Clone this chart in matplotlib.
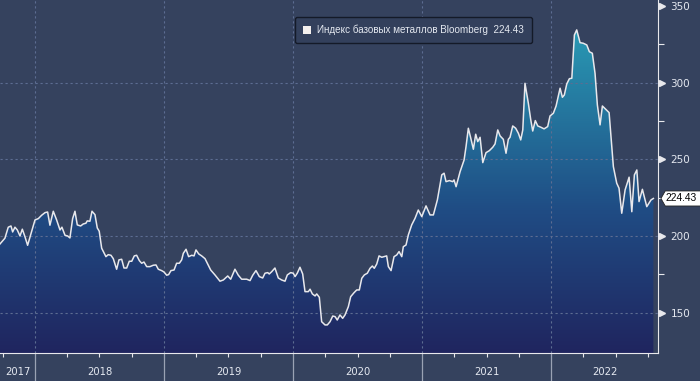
import numpy as np
import matplotlib
matplotlib.use("Agg")
import matplotlib.pyplot as plt
from matplotlib.colors import LinearSegmentedColormap
from matplotlib.patches import Patch, Polygon
import matplotlib.transforms as mtransforms

# time as fractional years, values of the Bloomberg base metals index
t = [2017.729, 2017.767, 2017.793, 2017.814, 2017.827, 2017.845, 2017.863, 2017.884, 2017.902, 2017.922,
     2017.943, 2017.974, 2018.000, 2018.026, 2018.052, 2018.078, 2018.098, 2018.116, 2018.142, 2018.168,
     2018.194, 2018.209, 2018.233, 2018.253, 2018.271, 2018.292, 2018.310, 2018.328, 2018.354, 2018.374,
     2018.395, 2018.405, 2018.426, 2018.442, 2018.465, 2018.483, 2018.498, 2018.517, 2018.550, 2018.568,
     2018.589, 2018.607, 2018.633, 2018.651, 2018.672, 2018.690, 2018.711, 2018.731, 2018.750, 2018.770,
     2018.788, 2018.809, 2018.827, 2018.845, 2018.866, 2018.891, 2018.917, 2018.938, 2018.956, 2018.982,
     2019.000, 2019.021, 2019.036, 2019.054, 2019.078, 2019.098, 2019.119, 2019.137, 2019.150, 2019.171,
     2019.191, 2019.215, 2019.233, 2019.248, 2019.269, 2019.292, 2019.318, 2019.336, 2019.362, 2019.395,
     2019.434, 2019.460, 2019.494, 2019.517, 2019.550, 2019.576, 2019.602, 2019.641, 2019.667, 2019.688,
     2019.713, 2019.739, 2019.765, 2019.783, 2019.804, 2019.816, 2019.835, 2019.860, 2019.886, 2019.912,
     2019.938, 2019.956, 2019.982, 2020.002, 2020.016, 2020.033, 2020.054, 2020.075, 2020.093, 2020.119,
     2020.132, 2020.150, 2020.171, 2020.184, 2020.204, 2020.222, 2020.248, 2020.266, 2020.287, 2020.308,
     2020.326, 2020.343, 2020.364, 2020.385, 2020.403, 2020.429, 2020.447, 2020.473, 2020.494, 2020.514,
     2020.533, 2020.553, 2020.576, 2020.597, 2020.615, 2020.630, 2020.649, 2020.667, 2020.688, 2020.705,
     2020.726, 2020.739, 2020.760, 2020.783, 2020.804, 2020.822, 2020.843, 2020.855, 2020.876, 2020.894,
     2020.920, 2020.946, 2020.971, 2020.998, 2021.031, 2021.062, 2021.088, 2021.119, 2021.153, 2021.171,
     2021.186, 2021.212, 2021.238, 2021.248, 2021.264, 2021.295, 2021.326, 2021.341, 2021.359, 2021.378,
     2021.398, 2021.416, 2021.432, 2021.450, 2021.471, 2021.496, 2021.522, 2021.548, 2021.566, 2021.587,
     2021.605, 2021.630, 2021.651, 2021.669, 2021.682, 2021.703, 2021.726, 2021.747, 2021.765, 2021.781,
     2021.798, 2021.824, 2021.843, 2021.858, 2021.878, 2021.897, 2021.920, 2021.946, 2021.974, 2021.992,
     2022.018, 2022.039, 2022.070, 2022.088, 2022.103, 2022.122, 2022.142, 2022.161, 2022.181, 2022.199,
     2022.225, 2022.250, 2022.277, 2022.297, 2022.320, 2022.341, 2022.359, 2022.380, 2022.398, 2022.424,
     2022.450, 2022.483, 2022.509, 2022.527, 2022.548, 2022.574, 2022.605, 2022.626, 2022.646, 2022.665,
     2022.682, 2022.708, 2022.742, 2022.775, 2022.793]
vals = [194.8, 198.5, 205.7, 206.5, 202.6, 205.7, 203.9, 200.0, 204.4, 199.6,
        193.9, 202.8, 210.4, 211.3, 213.5, 215.2, 215.6, 207.0, 216.1, 210.4,
        203.9, 205.7, 200.4, 200.0, 198.7, 211.3, 216.1, 207.2, 206.5, 207.8,
        208.3, 209.8, 209.6, 216.1, 213.9, 205.2, 203.1, 192.0, 186.5, 187.8,
        187.4, 185.2, 178.3, 184.4, 184.8, 179.1, 179.1, 183.5, 183.5, 187.0,
        187.4, 183.9, 182.2, 183.0, 180.0, 180.0, 180.9, 181.1, 178.3, 177.4,
        176.5, 174.4, 174.8, 177.4, 177.8, 182.2, 182.2, 184.4, 188.7, 191.3,
        186.5, 187.4, 187.0, 190.9, 188.3, 187.0, 185.2, 182.2, 177.8, 174.6,
        170.5, 171.3, 173.9, 171.8, 178.3, 174.4, 171.8, 171.8, 170.9, 174.4,
        177.4, 173.5, 172.6, 175.7, 176.1, 175.2, 176.7, 179.1, 172.6, 171.3,
        170.5, 174.6, 176.1, 175.7, 173.5, 175.7, 179.6, 175.2, 163.7, 163.7,
        165.3, 162.2, 160.9, 162.2, 160.0, 144.1, 142.0, 142.0, 144.1, 147.8,
        147.4, 145.2, 148.5, 146.3, 148.5, 153.9, 160.4, 163.0, 164.8, 164.8,
        172.4, 174.6, 175.7, 178.9, 180.4, 178.9, 181.7, 187.0, 186.1, 186.5,
        187.0, 180.0, 177.4, 186.5, 187.6, 189.8, 186.5, 193.0, 194.1, 200.7,
        207.2, 211.5, 216.9, 212.6, 219.6, 213.7, 213.7, 223.5, 239.8, 240.9,
        235.4, 236.1, 235.4, 236.5, 232.1, 241.9, 249.5, 258.2, 270.2, 263.7,
        256.5, 266.3, 261.5, 264.3, 247.8, 254.3, 255.6, 257.8, 260.0, 269.1,
        265.2, 263.0, 253.9, 263.0, 264.3, 271.7, 270.2, 266.9, 262.6, 269.1,
        299.5, 286.5, 275.6, 268.4, 275.2, 271.7, 270.9, 269.8, 271.3, 278.2,
        280.0, 284.7, 296.3, 290.4, 291.9, 299.1, 302.5, 302.8, 331.0, 334.3,
        326.0, 325.6, 324.5, 320.1, 319.1, 306.0, 285.4, 272.4, 284.7, 282.6,
        280.4, 245.2, 234.4, 231.1, 214.8, 230.0, 238.3, 215.8, 239.8, 243.0,
        222.4, 230.4, 219.1, 223.5, 224.43]

years = [2017, 2018, 2019, 2020, 2021, 2022]
y_major = [150, 200, 250, 300, 350]
y_minor = [175, 225, 275, 325]
label = "Индекс базовых металлов Bloomberg  224.43"
last_label = "224.43"

bg = "#35425e"
txt = "#e4e8f0"
xmin, xmax = 2017.729, 2022.829
ymin, ymax = 123.7, 353.8

t = np.array(t)
vals = np.array(vals)

fig = plt.figure(figsize=(7, 3.81), dpi=100, facecolor=bg)
ax = fig.add_axes([0, 28 / 381, 658 / 700, 353 / 381])
ax.set_facecolor(bg)
ax.set_xlim(xmin, xmax)
ax.set_ylim(ymin, ymax)

# gradient fill under the line
cmap = LinearSegmentedColormap.from_list("g", [(0, "#20255f"), (0.42, "#1f4c84"), (1, "#2aa0b8")])
grad = np.linspace(0, 1, 256).reshape(-1, 1)
im = ax.imshow(grad, aspect="auto", cmap=cmap, origin="lower",
               extent=[xmin, xmax, ymin, 345], zorder=1)
poly = ax.fill_between(t, ymin, vals, color="none", zorder=1)
im.set_clip_path(poly.get_paths()[0], transform=ax.transData)

# grid
for yv in [150, 200, 250, 300]:
    ax.axhline(yv, color="#5d6d92", lw=0.8, ls=(0, (2, 2.5)), zorder=2)
for yr in years[1:]:
    ax.axvline(yr, color="#5d6d92", lw=0.8, ls=(0, (2, 2.5)), zorder=2)

ax.plot(t, vals, color="#e8e8ec", lw=1.1, zorder=3)

# spines
for s in ["top", "left"]:
    ax.spines[s].set_visible(False)
ax.spines["right"].set_color("#e8e8ec")
ax.spines["bottom"].set_color("#e8e8ec")
ax.spines["right"].set_linewidth(0.8)
ax.spines["bottom"].set_linewidth(0.8)

# right axis
ax.yaxis.tick_right()
ax.set_yticks(y_major)
ax.set_yticklabels([str(v) for v in y_major], color=txt, fontsize=7.5)
ax.set_yticks(y_minor, minor=True)
ax.tick_params(axis="y", which="major", length=0, pad=9)
ax.tick_params(axis="y", which="minor", length=4, color="#e8e8ec", width=0.8)
tr_y = mtransforms.blended_transform_factory(ax.transAxes, ax.transData)
ax.plot([1.006] * len(y_major), y_major, ls="none", marker=">", ms=4, color="#e8e8ec",
        transform=tr_y, clip_on=False, zorder=4)

# bottom axis: quarter ticks, year separators and year labels
ax.set_xticks([])
quarters = [y + q for y in range(2017, 2023) for q in (0.25, 0.5, 0.75) if xmin < y + q < xmax]
ax.set_xticks(quarters, minor=True)
ax.tick_params(axis="x", which="minor", length=3, color="#e8e8ec", width=0.8)
tr_x = mtransforms.blended_transform_factory(ax.transData, ax.transAxes)
for yr in years[1:]:
    ax.plot([yr, yr], [0, -0.08], color="#9aa2b4", lw=0.9, transform=tr_x, clip_on=False)
for yr in years:
    lo, hi = max(yr, xmin), min(yr + 1, xmax)
    ax.text((lo + hi) / 2, -0.055, str(yr), transform=tr_x, ha="center", va="center",
            color=txt, fontsize=7.2)

# legend box
leg = ax.legend(handles=[Patch(facecolor="#f4f0ee", edgecolor="none", label=label)],
                loc="upper left", bbox_to_anchor=(0.448, 0.952), borderaxespad=0,
                frameon=True, fancybox=True, facecolor="#33405c", edgecolor="#141a28",
                framealpha=1, prop={"family": "Liberation Sans", "size": 7.1},
                handlelength=0.85, handleheight=0.85, handletextpad=0.6, borderpad=0.8)
for tx in leg.get_texts():
    tx.set_color(txt)

# last value tag
v = vals[-1]
tag = Polygon([[1.0045, v], [1.011, v + 4.9], [1.07, v + 4.9], [1.07, v - 4.9], [1.011, v - 4.9]],
              closed=True, transform=tr_y, facecolor="white", edgecolor="#222222", lw=0.6,
              clip_on=False, zorder=5)
ax.add_patch(tag)
ax.text(1.0115, v, last_label, transform=tr_y, ha="left", va="center",
        fontsize=7.4, family="Liberation Sans", color="black", clip_on=False, zorder=6)

fig.savefig("out.png", dpi=100, facecolor=bg)
